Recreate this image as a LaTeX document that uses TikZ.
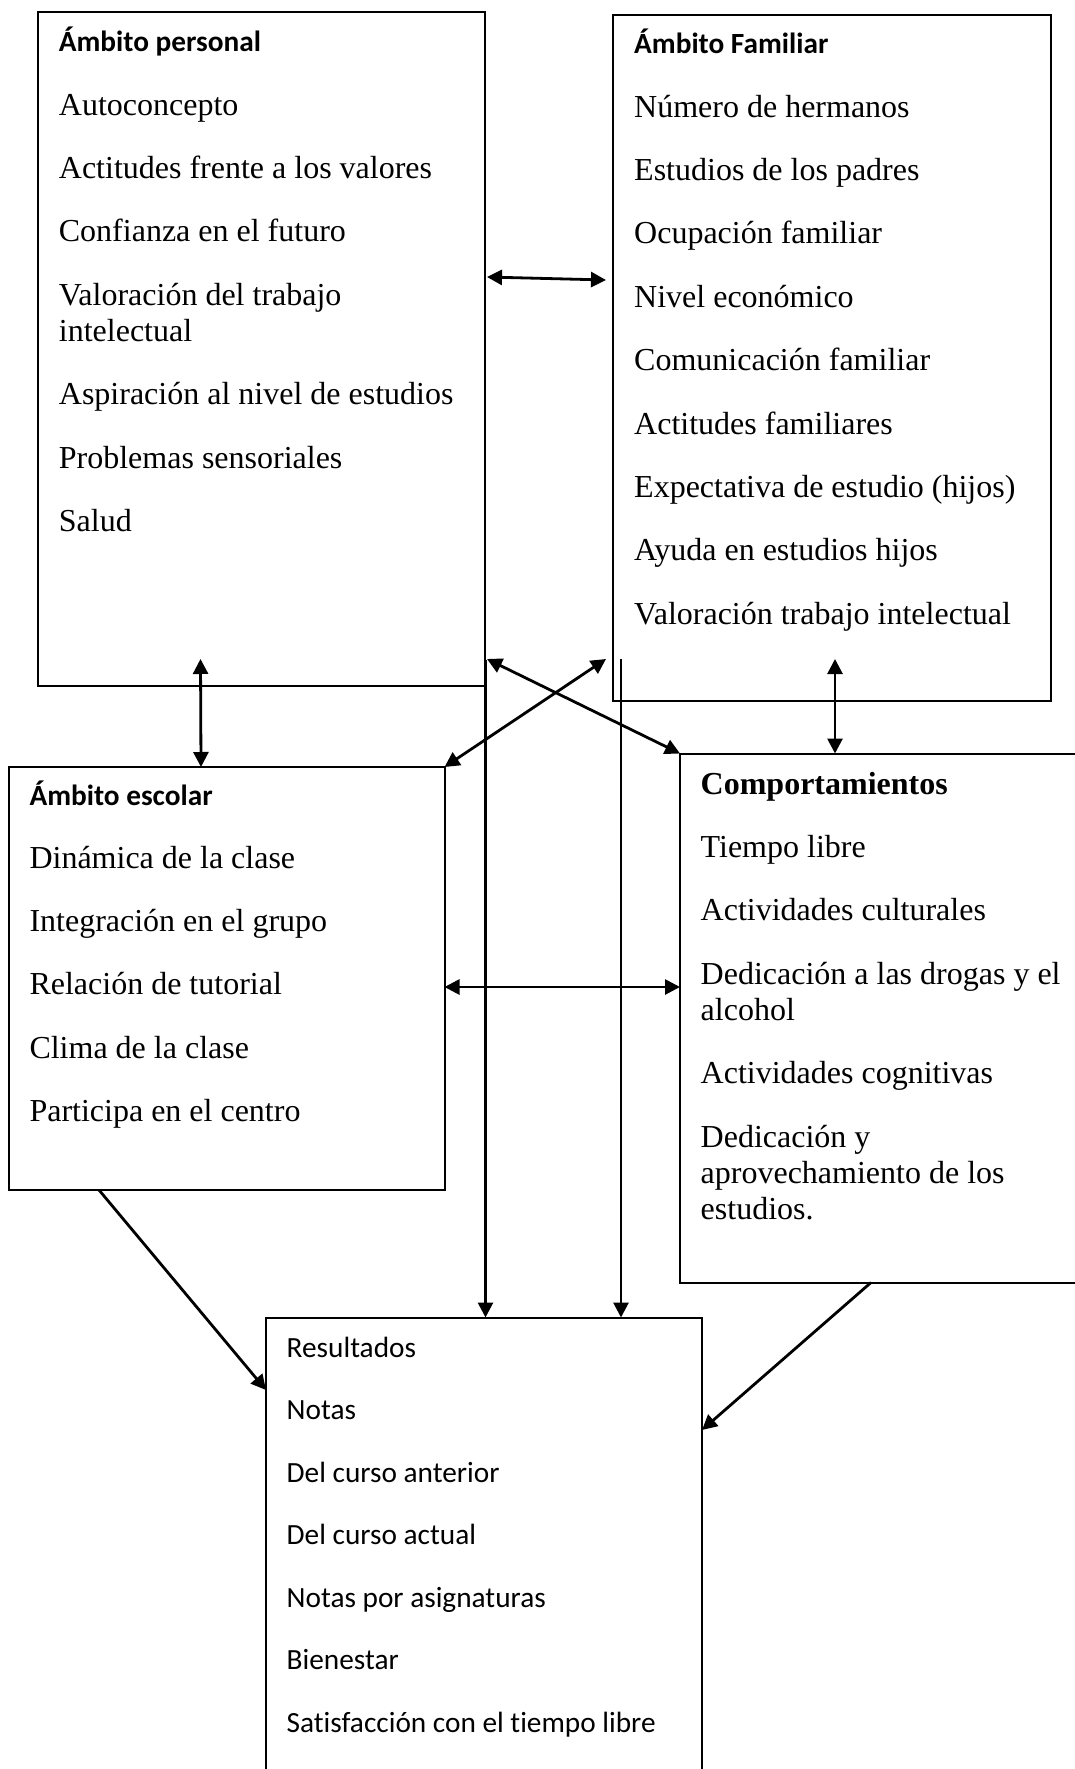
\documentclass[tikz,border=0pt]{standalone}
\usepackage{fontspec}
\setmainfont{Liberation Serif}
\newfontfamily\calibfont[Ligatures=NoCommon]{Carlito}
\usetikzlibrary{arrows.meta}
\begin{document}
\begin{tikzpicture}[x=1pt,y=-1pt,
  box/.style={draw, line width=2pt, anchor=north west, inner sep=0pt, outer sep=0pt},
  tm/.style={anchor=base west, inner sep=0pt, font=\fontsize{32}{36}\selectfont},
  tmb/.style={anchor=base west, inner sep=0pt, font=\bfseries\fontsize{32}{36}\selectfont},
  cb/.style={anchor=base west, inner sep=0pt, font=\calibfont\fontsize{29.3}{34}\selectfont},
  cbb/.style={anchor=base west, inner sep=0pt, font=\calibfont\bfseries\fontsize{29.3}{34}\selectfont},
  tip/.tip={Triangle[length=15pt,width=15pt]},
  dbl/.style={line width=2.8pt, tip-tip},
  one/.style={line width=2.8pt, -tip}]
\useasboundingbox (0,0) rectangle (1075,1769);
\clip (0,0) rectangle (1075,1769);
\fill[white] (0,0) rectangle (1075,1769);

% boxes
\node[box, minimum width=447pt, minimum height=674pt] (pers) at (38,12) {};
\node[box, minimum width=438.5pt, minimum height=686pt] (fam) at (612.5,14.7) {};
\node[box, minimum width=435.5pt, minimum height=423pt] (esc) at (9,767) {};
\node[box, minimum width=430pt, minimum height=529pt] (comp) at (680,753.5) {};
\node[box, minimum width=435.6pt, minimum height=480pt] (res) at (266,1317.5) {};

% Ambito personal
\node[cbb] (p0) at (58.7,52) {Ámbito personal};
\node[tm] (p1) at (58.7,115) {Autoconcepto};
\node[tm] (p2) at (58.7,178.4) {Actitudes frente a los valores};
\node[tm] (p3) at (58.7,241.8) {Confianza en el futuro};
\node[tm] (p4) at (58.7,305.2) {Valoración del trabajo};
\node[tm] (p4b) at (58.7,341.2) {intelectual};
\node[tm] (p5) at (58.7,404.6) {Aspiración al nivel de estudios};
\node[tm] (p6) at (58.7,468) {Problemas sensoriales};
\node[tm] (p7) at (58.7,531.4) {Salud};

% Ambito familiar
\node[cbb] (f0) at (634,54) {Ámbito Familiar};
\node[tm] (f1) at (634,117) {Número de hermanos};
\node[tm] (f2) at (634,180.4) {Estudios de los padres};
\node[tm] (f3) at (634,243.8) {Ocupación familiar};
\node[tm] (f4) at (634,307.2) {Nivel económico};
\node[tm] (f5) at (634,370.6) {Comunicación familiar};
\node[tm] (f6) at (634,434) {Actitudes familiares};
\node[tm] (f7) at (634,497.4) {Expectativa de estudio (hijos)};
\node[tm] (f8) at (634,560.8) {Ayuda en estudios hijos};
\node[tm] (f9) at (634,624.2) {Valoración trabajo intelectual};

% Ambito escolar
\node[cbb] (e0) at (29.3,805) {Ámbito escolar};
\node[tm] (e1) at (29.3,868) {Dinámica de la clase};
\node[tm] (e2) at (29.3,931.4) {Integración en el grupo};
\node[tm] (e3) at (29.3,994.8) {Relación de tutorial};
\node[tm] (e4) at (29.3,1058.2) {Clima de la clase};
\node[tm] (e5) at (29.3,1121.6) {Participa en el centro};

% Comportamientos
\node[tmb] (c0) at (700.5,794) {Comportamientos};
\node[tm] (c1) at (700.5,857.4) {Tiempo libre};
\node[tm] (c2) at (700.5,920.8) {Actividades culturales};
\node[tm] (c3) at (700.5,984.2) {Dedicación a las drogas y el};
\node[tm] (c3b) at (700.5,1020.2) {alcohol};
\node[tm] (c4) at (700.5,1083.6) {Actividades cognitivas};
\node[tm] (c5) at (700.5,1147) {Dedicación y};
\node[tm] (c5b) at (700.5,1183) {aprovechamiento de los};
\node[tm] (c5c) at (700.5,1219) {estudios.};

% Resultados
\node[cb] (r0) at (286.5,1357) {Resultados};
\node[cb] (r1) at (286.5,1419.5) {Notas};
\node[cb] (r2) at (286.5,1482) {Del curso anterior};
\node[cb] (r3) at (286.5,1544.5) {Del curso actual};
\node[cb] (r4) at (286.5,1607) {Notas por asignaturas};
\node[cb] (r5) at (286.5,1669.5) {Bienestar};
\node[cb] (r6) at (286.5,1732) {Satisfacción con el tiempo libre};

% connector end points
\coordinate (pf1) at (487,277);
\coordinate (pf2) at (606,280);
\coordinate (pe1) at (200.5,659);
\coordinate (pe2) at (201,767);
\coordinate (fc1) at (835,659);
\coordinate (fc2) at (835,753.5);
\coordinate (pc1) at (487,659);
\coordinate (pc2) at (680,753.5);
\coordinate (fe1) at (606,659);
\coordinate (fe2) at (444.5,767);
\coordinate (ec1) at (444.5,987);
\coordinate (ec2) at (680,987);
\coordinate (pr1) at (485.5,660);
\coordinate (pr2) at (485.5,1317.5);
\coordinate (fr1) at (621,659);
\coordinate (fr2) at (621,1317.5);
\coordinate (er1) at (99,1190);
\coordinate (er2) at (266,1390);
\coordinate (cr1) at (871,1282.5);
\coordinate (cr2) at (702,1430);

\draw[dbl] (pf1) -- (pf2);
\draw[dbl] (pe1) -- (pe2);
\draw[dbl] (fc1) -- (fc2);
\draw[dbl] (pc1) -- (pc2);
\draw[dbl] (fe1) -- (fe2);
\draw[dbl] (ec1) -- (ec2);
\draw[one] (pr1) -- (pr2);
\draw[one] (fr1) -- (fr2);
\draw[one] (er1) -- (er2);
\draw[one] (cr1) -- (cr2);
\end{tikzpicture}
\end{document}
